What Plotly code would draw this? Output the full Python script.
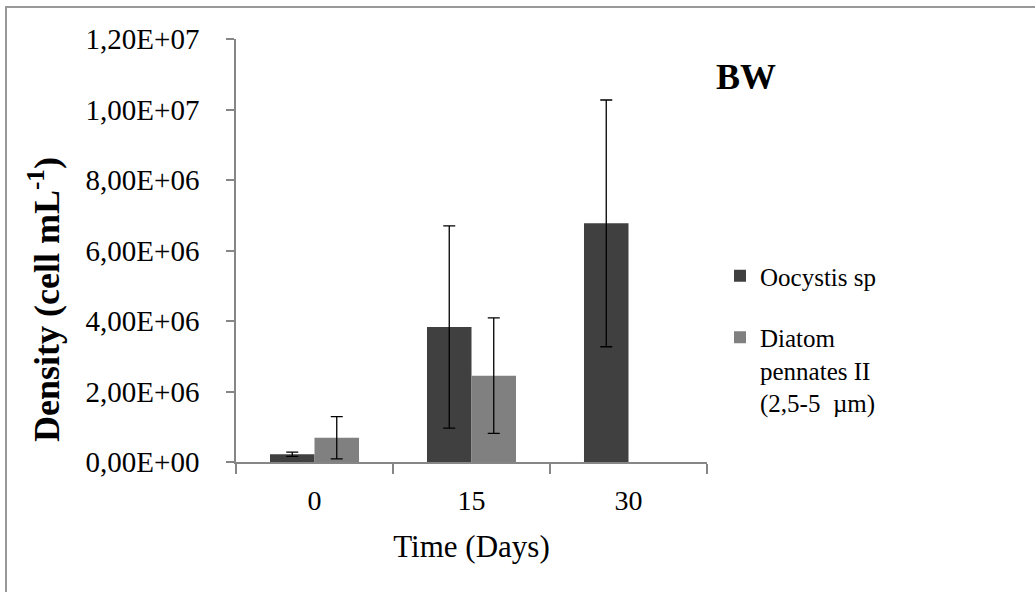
import plotly.graph_objects as go

# ---- data ----
days = ["0", "15", "30"]
oocystis = [2.2e5, 3.83e6, 6.77e6]
oocystis_err = [0.6e5, 2.87e6, 3.5e6]
diatom = [6.9e5, 2.45e6, None]
diatom_err = [6.0e5, 1.64e6, None]
ytick_vals = [0, 2e6, 4e6, 6e6, 8e6, 1e7, 1.2e7]
ytick_text = ["0,00E+00", "2,00E+06", "4,00E+06", "6,00E+06", "8,00E+06", "1,00E+07", "1,20E+07"]
series_names = ["Oocystis sp", "Diatom<br>pennates II<br>(2,5-5  µm)"]

W, H = 1035, 592
L, R, T, B = 236, 328, 39, 130
PW, PH = W - L - R, H - T - B

def px(x):
    return (x - L) / PW

def py(y):
    return (H - B - y) / PH

FONT = "Liberation Serif, Times New Roman, serif"
AX = "#868686"

fig = go.Figure()
fig.add_trace(go.Bar(
    x=days, y=oocystis, name=series_names[0], legendgroup="a",
    marker=dict(color="#404040", line=dict(width=0)),
    error_y=dict(type="data", array=oocystis_err, visible=True,
                 color="black", thickness=1.3, width=6),
))
fig.add_trace(go.Bar(
    x=days, y=diatom, name=series_names[1], legendgroup="b",
    marker=dict(color="#808080", line=dict(width=0)),
    error_y=dict(type="data", array=diatom_err, visible=True,
                 color="black", thickness=1.3, width=6),
))

fig.update_layout(
    width=W, height=H,
    margin=dict(l=L, r=R, t=T, b=B),
    paper_bgcolor="white", plot_bgcolor="white",
    font=dict(family=FONT, color="black", size=28),
    barmode="group", bargap=0.433, bargroupgap=0,
    showlegend=True,
    legend=dict(x=px(720), y=py(253), xanchor="left", yanchor="top",
                font=dict(size=25, family=FONT), valign="top",
                tracegroupgap=26, bgcolor="rgba(0,0,0,0)"),
    xaxis=dict(type="category", showline=True, linecolor=AX, linewidth=1.5,
               ticks="outside", tickson="boundaries", ticklen=10, tickcolor=AX, tickwidth=1.5,
               showgrid=False, tickfont=dict(size=28), ticklabelstandoff=13,
               title=dict(text="Time (Days)", font=dict(size=31), standoff=20)),
    yaxis=dict(range=[0, 1.2e7], showline=True, linecolor=AX, linewidth=1.5,
               ticks="outside", ticklen=8, tickcolor=AX, tickwidth=1.5,
               tickvals=ytick_vals, ticktext=ytick_text, showgrid=False, zeroline=False,
               tickfont=dict(size=29), ticklabelstandoff=21),
)

fig.add_annotation(text="<b>Density (cell mL<sup>-1</sup>)</b>", xref="paper", yref="paper",
                   x=px(44), y=py(300), textangle=-90, showarrow=False,
                   font=dict(size=36, family=FONT), xanchor="center", yanchor="middle")
fig.add_annotation(text="<b>BW</b>", xref="paper", yref="paper",
                   x=px(746), y=py(77), showarrow=False,
                   font=dict(size=36, family=FONT), xanchor="center", yanchor="middle")

fig.add_shape(type="rect", xref="paper", yref="paper",
              x0=px(6), x1=px(W + 20), y0=py(7), y1=py(H + 20),
              line=dict(color="#999999", width=2), fillcolor="rgba(0,0,0,0)", layer="below")

fig.write_html("out.html")
